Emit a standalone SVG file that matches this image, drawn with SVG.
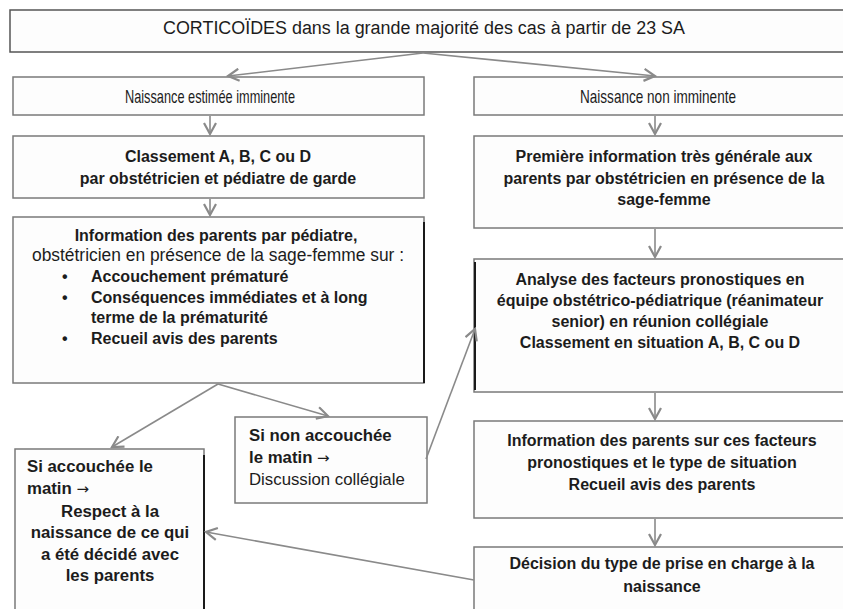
<svg xmlns="http://www.w3.org/2000/svg" width="843" height="609" viewBox="0 0 843 609">
<defs>
<marker id="arr" viewBox="0 0 14 14" refX="12" refY="7" markerWidth="14" markerHeight="14" markerUnits="userSpaceOnUse" orient="auto">
<path d="M1,1 L12,7 L1,13" fill="none" stroke="#8a8a8a" stroke-width="2.2"/>
</marker>
<style>
.box{fill:#fdfdfd;stroke:#7a7a7a;stroke-width:1.5}
.dk{stroke:#1a1a1a;stroke-width:2;fill:none}
.t{font-family:"Liberation Sans",Arial,sans-serif;font-size:16px;fill:#1c1c1c}
.b{font-weight:bold}
.c{text-anchor:middle}
.n{font-size:18px}
.nn{font-size:19px}
.s{font-size:16.8px}
.ar{font-family:"DejaVu Sans",sans-serif;font-weight:normal;font-size:15px}
.con{stroke:#8a8a8a;stroke-width:1.6;fill:none;marker-end:url(#arr)}
</style>
</defs>
<rect width="843" height="609" fill="#ffffff"/>

<g id="top">
<rect class="box" x="10" y="10" width="845" height="42" style="stroke:#555"/>
<text class="t c n" x="424" y="34" textLength="522" lengthAdjust="spacingAndGlyphs">CORTICOÏDES dans la grande majorité des cas à partir de 23 SA</text>
</g>

<g id="imminente">
<rect class="box" x="13" y="77" width="411" height="38"/>
<text class="t c nn" x="210" y="103" textLength="170" lengthAdjust="spacingAndGlyphs">Naissance estimée imminente</text>
</g>

<g id="non-imminente">
<rect class="box" x="474" y="77" width="380" height="38"/>
<text class="t c nn" x="658" y="103" textLength="156" lengthAdjust="spacingAndGlyphs">Naissance non imminente</text>
</g>

<g id="classement">
<rect class="box" x="13" y="136" width="411" height="62"/>
<text class="t c b" x="218" y="162">Classement A, B, C ou D</text>
<text class="t c b" x="218" y="184">par obstétricien et pédiatre de garde</text>
</g>

<g id="information">
<rect class="box" x="13" y="217" width="411" height="166"/>
<line class="dk" x1="424" y1="222" x2="424" y2="383"/>
<text class="t c b" x="216" y="241">Information des parents par pédiatre,</text>
<text class="t c" x="218" y="261" style="font-size:17.5px" textLength="372" lengthAdjust="spacingAndGlyphs">obstétricien en présence de la sage-femme sur :</text>
<text class="t b" x="62" y="282">•</text>
<text class="t b" x="91" y="282">Accouchement prématuré</text>
<text class="t b" x="62" y="303">•</text>
<text class="t b" x="91" y="303">Conséquences immédiates et à  long</text>
<text class="t b" x="91" y="323">terme de la prématurité</text>
<text class="t b" x="62" y="344">•</text>
<text class="t b" x="91" y="344">Recueil avis des parents</text>
</g>

<g id="premiere">
<rect class="box" x="474" y="136" width="380" height="92"/>
<text class="t c b" x="664" y="162">Première information très générale aux</text>
<text class="t c b" x="664" y="184">parents par obstétricien en présence de la</text>
<text class="t c b" x="664" y="205">sage-femme</text>
</g>

<g id="analyse">
<rect class="box" x="474" y="259" width="380" height="133"/>
<line class="dk" x1="475" y1="262" x2="475" y2="390"/>
<text class="t c b" x="660" y="285">Analyse des facteurs pronostiques en</text>
<text class="t c b" x="660" y="306">équipe obstétrico-pédiatrique (réanimateur</text>
<text class="t c b" x="660" y="327">senior) en réunion collégiale</text>
<text class="t c b" x="660" y="348">Classement en situation A, B, C ou D</text>
</g>

<g id="info-parents">
<rect class="box" x="474" y="421" width="380" height="97"/>
<text class="t c b" x="662" y="446">Information des parents sur ces facteurs</text>
<text class="t c b" x="662" y="468">pronostiques et le type de situation</text>
<text class="t c b" x="662" y="490">Recueil avis des parents</text>
</g>

<g id="decision">
<rect class="box" x="474" y="547" width="380" height="80"/>
<text class="t c b" x="662" y="569">Décision du type de prise en charge à la</text>
<text class="t c b" x="662" y="592">naissance</text>
</g>

<g id="si-non">
<rect class="box" x="235" y="417" width="192" height="86"/>
<text class="t b s" x="249" y="441">Si non accouchée</text>
<text class="t b s" x="249" y="463">le matin <tspan class="ar">→</tspan></text>
<text class="t s" x="249" y="485">Discussion collégiale</text>
</g>

<g id="si-accouchee">
<rect class="box" x="15" y="449" width="189" height="175"/>
<line class="dk" x1="204" y1="455" x2="204" y2="609"/>
<text class="t b s" x="27" y="472">Si accouchée le</text>
<text class="t b s" x="27" y="494">matin <tspan class="ar">→</tspan></text>
<text class="t c b s" x="110" y="517">Respect à la</text>
<text class="t c b s" x="110" y="538">naissance de ce qui</text>
<text class="t c b s" x="110" y="560">a été décidé avec</text>
<text class="t c b s" x="110" y="581">les parents</text>
</g>

<g id="connectors">
<line class="con" x1="423" y1="53" x2="228" y2="76"/>
<line class="con" x1="423" y1="53" x2="655" y2="76"/>
<line class="con" x1="210" y1="116" x2="210" y2="134"/>
<line class="con" x1="210" y1="199" x2="210" y2="215"/>
<line class="con" x1="655" y1="116" x2="655" y2="134"/>
<line class="con" x1="655" y1="229" x2="655" y2="257"/>
<line class="con" x1="655" y1="393" x2="655" y2="419"/>
<line class="con" x1="655" y1="519" x2="655" y2="545"/>
<line class="con" x1="218" y1="384" x2="112" y2="447"/>
<line class="con" x1="218" y1="384" x2="328" y2="416"/>
<line class="con" x1="426" y1="459" x2="475" y2="329"/>
<line class="con" x1="474" y1="580" x2="206" y2="532"/>
</g>
</svg>
